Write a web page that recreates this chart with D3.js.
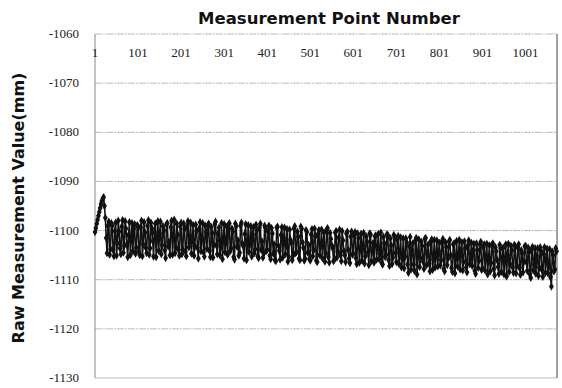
<!DOCTYPE html>
<html>
<head>
<meta charset="utf-8">
<script src="https://cdn.jsdelivr.net/npm/d3@7"></script>
<style>
  body { margin: 0; background: #fff; }
  svg { display: block; }
</style>
</head>
<body>
<svg id="chart" width="562" height="388"></svg>
<script>
const xTickLabels = [1, 101, 201, 301, 401, 501, 601, 701, 801, 901, 1001]
const yTicks = [-1060, -1070, -1080, -1090, -1100, -1110, -1120, -1130]
const lastPoint = 1074

// raw readings at points 1, 5, 9, ...
const rawValues = [
  -1100.3, -1098.6, -1097.0, -1095.4, -1094.0, -1093.2, -1097.4, -1104.6, -1098.2, -1103.8, -1099.0, -1105.2, -1098.4, -1102.6, -1100.2, -1104.8, -1097.9, -1103.1, -1099.6, -1105.4, -1098.3, -1101.9, -1104.2, -1098.7, -1103.5,
  -1099.1, -1105.0, -1098.0, -1102.8, -1100.4, -1104.6, -1097.9, -1103.6, -1099.5, -1105.3, -1098.6, -1101.7, -1104.1, -1098.2, -1103.0, -1100.0, -1105.6, -1098.5, -1102.3, -1099.3, -1104.9, -1097.8, -1103.4, -1100.8, -1105.1,
  -1098.4, -1103.9, -1099.7, -1105.2, -1098.1, -1102.5, -1104.7, -1098.9, -1103.2, -1100.1, -1105.7, -1098.3, -1101.6, -1104.4, -1099.0, -1103.7, -1098.6, -1105.4, -1100.5, -1102.9, -1098.2, -1104.8, -1099.4, -1103.3, -1105.8,
  -1098.7, -1102.4, -1104.9, -1098.5, -1103.6, -1100.2, -1105.9, -1099.1, -1102.0, -1104.5, -1098.4, -1103.1, -1100.7, -1106.0, -1098.9, -1102.7, -1105.3, -1099.3, -1103.8, -1100.0, -1105.6, -1098.6, -1102.2, -1104.7, -1099.5,
  -1103.9, -1099.0, -1105.8, -1100.6, -1102.8, -1106.2, -1099.2, -1104.1, -1100.9, -1105.5, -1099.4, -1103.0, -1106.3, -1099.8, -1102.5, -1105.1, -1099.1, -1104.4, -1101.2, -1106.0, -1099.6, -1103.5, -1105.7, -1100.3, -1102.9,
  -1106.1, -1099.7, -1104.0, -1101.1, -1106.4, -1099.9, -1103.2, -1105.6, -1100.4, -1104.6, -1099.5, -1106.5, -1101.7, -1103.6, -1105.9, -1100.1, -1104.3, -1099.8, -1106.2, -1102.0, -1105.0, -1100.6, -1103.9, -1106.6, -1100.2,
  -1104.7, -1100.3, -1106.8, -1101.5, -1103.8, -1106.1, -1100.5, -1105.2, -1102.3, -1107.0, -1100.8, -1104.1, -1106.5, -1101.0, -1103.4, -1105.8, -1100.4, -1106.9, -1102.6, -1104.9, -1100.9, -1107.2, -1103.0, -1105.5, -1101.3,
  -1106.4, -1101.1, -1104.6, -1107.5, -1101.6, -1105.3, -1102.4, -1108.6, -1101.3, -1104.0, -1106.9, -1102.0, -1108.9, -1101.8, -1105.6, -1103.1, -1107.8, -1101.5, -1104.8, -1106.7, -1102.2, -1108.0, -1101.9, -1105.1, -1107.3,
  -1102.5, -1106.0, -1101.7, -1108.3, -1103.3, -1105.7, -1101.9, -1107.6, -1102.8, -1108.7, -1102.1, -1105.2, -1107.9, -1102.4, -1106.4, -1103.6, -1108.5, -1102.0, -1105.9, -1107.2, -1102.7, -1108.8, -1103.9, -1106.1, -1102.3,
  -1107.7, -1102.8, -1105.4, -1108.9, -1103.0, -1106.6, -1102.6, -1109.1, -1104.2, -1107.4, -1102.9, -1108.4, -1103.5, -1105.9, -1109.3, -1102.7, -1106.8, -1104.0, -1108.6, -1103.2, -1107.1, -1102.8, -1109.0, -1104.6, -1106.3,
  -1103.1, -1108.2, -1104.4, -1109.6, -1103.3, -1106.9, -1108.8, -1103.6, -1107.5, -1104.1, -1109.4, -1103.4, -1106.2, -1108.7, -1103.8, -1111.4, -1105.0, -1107.9, -1104.2
]

// raw readings at points 3, 7, 11, ...
const midValues = [
  -1099.5, -1097.8, -1096.2, -1094.6, -1093.5, -1095.0, -1101.5, -1099.0, -1104.9, -1098.5, -1103.9, -1100.1, -1105.1, -1098.0, -1103.6, -1099.2, -1104.5, -1098.1, -1102.8, -1100.9, -1105.0, -1098.5, -1099.6, -1104.7, -1098.9,
  -1104.3, -1099.4, -1105.2, -1098.3, -1103.5, -1099.0, -1104.9, -1098.4, -1102.1, -1100.3, -1105.4, -1098.1, -1100.6, -1104.8, -1099.1, -1104.0, -1098.7, -1103.2, -1105.0, -1098.0, -1101.4, -1104.6, -1098.6, -1103.9, -1099.2,
  -1104.8, -1098.6, -1104.3, -1099.1, -1103.4, -1098.4, -1101.8, -1105.1, -1098.8, -1103.5, -1099.6, -1104.2, -1098.5, -1105.3, -1100.2, -1098.9, -1104.1, -1099.3, -1105.5, -1098.7, -1103.0, -1100.6, -1105.0, -1098.5, -1101.9,
  -1104.4, -1099.2, -1098.8, -1104.2, -1099.6, -1105.4, -1098.6, -1103.3, -1105.1, -1099.0, -1102.6, -1105.7, -1098.7, -1103.0, -1104.4, -1099.1, -1100.8, -1104.6, -1098.8, -1105.2, -1099.4, -1103.9, -1105.5, -1099.0, -1104.1,
  -1100.2, -1105.1, -1099.5, -1104.7, -1106.0, -1099.4, -1103.1, -1105.9, -1099.3, -1101.6, -1104.8, -1099.7, -1105.4, -1101.9, -1106.0, -1099.6, -1104.6, -1100.2, -1105.7, -1099.2, -1102.4, -1106.1, -1099.9, -1104.5, -1105.8,
  -1100.8, -1105.2, -1099.6, -1106.1, -1100.7, -1105.0, -1099.8, -1102.4, -1106.3, -1099.9, -1105.4, -1100.5, -1103.0, -1106.2, -1100.4, -1105.5, -1101.4, -1105.0, -1100.1, -1104.2, -1106.4, -1100.2, -1105.7, -1101.2, -1104.9,
  -1100.9, -1105.6, -1100.6, -1106.5, -1100.7, -1103.0, -1106.7, -1101.2, -1104.4, -1100.6, -1106.2, -1102.5, -1101.2, -1105.9, -1100.7, -1104.7, -1106.6, -1101.3, -1105.4, -1100.8, -1106.0, -1101.6, -1106.8, -1100.9, -1104.6,
  -1101.9, -1106.8, -1101.4, -1105.7, -1107.7, -1101.6, -1106.9, -1103.2, -1107.9, -1102.6, -1108.2, -1101.5, -1104.7, -1107.4, -1102.3, -1106.3, -1101.7, -1107.0, -1102.8, -1108.3, -1101.8, -1105.9, -1107.5, -1102.0, -1104.2,
  -1107.1, -1102.2, -1107.8, -1102.4, -1107.0, -1102.3, -1105.0, -1108.4, -1102.6, -1105.6, -1107.3, -1101.9, -1104.0, -1108.1, -1102.2, -1107.5, -1103.0, -1106.8, -1102.5, -1104.1, -1108.2, -1102.6, -1107.6, -1102.9, -1108.0,
  -1103.4, -1108.1, -1102.7, -1105.6, -1108.3, -1102.9, -1107.8, -1103.4, -1106.0, -1108.8, -1103.6, -1105.7, -1108.9, -1102.8, -1104.9, -1108.4, -1103.1, -1107.5, -1102.9, -1108.7, -1103.5, -1107.6, -1104.0, -1108.5, -1103.2,
  -1106.4, -1103.5, -1108.9, -1103.9, -1108.1, -1103.6, -1105.2, -1109.2, -1103.4, -1108.0, -1104.8, -1108.6, -1103.7, -1107.4, -1109.5, -1104.3, -1108.3, -1103.6
]

const series = rawValues.map((v, i) => ({ n: 1 + i * 4, v }))
  .concat(midValues.map((v, i) => ({ n: 3 + i * 4, v })))
  .sort((a, b) => a.n - b.n)

const svg = d3.select('#chart')
const plotLeft = 95, plotRight = 557, plotTop = 34, plotBottom = 378

const x = d3.scaleLinear().domain([1, lastPoint]).range([plotLeft, plotRight])
const y = d3.scaleLinear().domain([-1130, -1060]).range([plotBottom, plotTop])

// gridlines
svg.append('g')
  .selectAll('line')
  .data(yTicks)
  .join('line')
    .attr('x1', plotLeft).attr('x2', plotRight)
    .attr('y1', d => y(d)).attr('y2', d => y(d))
    .attr('stroke', '#a8a8a8')
    .attr('stroke-width', 0.8)
    .attr('stroke-dasharray', d => d === -1130 ? null : '7,1,2,1')

// plot border
svg.append('line')
  .attr('x1', plotLeft).attr('x2', plotLeft).attr('y1', plotTop).attr('y2', plotBottom)
  .attr('stroke', '#8a8a8a').attr('stroke-width', 1)
svg.append('line')
  .attr('x1', plotRight).attr('x2', plotRight).attr('y1', plotTop).attr('y2', plotBottom)
  .attr('stroke', '#444').attr('stroke-width', 1)

// y tick labels
svg.append('g')
  .selectAll('text')
  .data(yTicks)
  .join('text')
    .attr('x', 79)
    .attr('y', d => y(d) + 4)
    .attr('text-anchor', 'end')
    .attr('font-family', 'Liberation Serif')
    .attr('font-size', 13)
    .attr('fill', '#222')
    .text(d => d)

// x tick labels (axis sits at the top)
svg.append('g')
  .selectAll('text')
  .data(xTickLabels)
  .join('text')
    .attr('x', d => x(d))
    .attr('y', 57)
    .attr('text-anchor', 'middle')
    .attr('font-family', 'Liberation Serif')
    .attr('font-size', 13)
    .attr('fill', '#222')
    .text(d => d)

// series line + diamond markers
const line = d3.line()
  .x(d => x(d.n))
  .y(d => y(d.v))

svg.append('path')
  .datum(series)
  .attr('d', line)
  .attr('fill', 'none')
  .attr('stroke', '#111')
  .attr('stroke-width', 1.6)

svg.append('g')
  .selectAll('path')
  .data(series)
  .join('path')
    .attr('transform', d => `translate(${x(d.n)},${y(d.v)})`)
    .attr('d', d3.symbol(d3.symbolDiamond).size(20))
    .attr('fill', '#111')

// titles
svg.append('text')
  .attr('x', 329)
  .attr('y', 24)
  .attr('text-anchor', 'middle')
  .attr('font-family', 'DejaVu Sans')
  .attr('font-weight', 'bold')
  .attr('font-size', 16.5)
  .attr('fill', '#111')
  .text('Measurement Point Number')

svg.append('text')
  .attr('transform', 'translate(24,208) rotate(-90)')
  .attr('text-anchor', 'middle')
  .attr('font-family', 'DejaVu Sans')
  .attr('font-weight', 'bold')
  .attr('font-size', 16)
  .attr('fill', '#111')
  .text('Raw Measurement Value(mm)')
</script>
</body>
</html>
